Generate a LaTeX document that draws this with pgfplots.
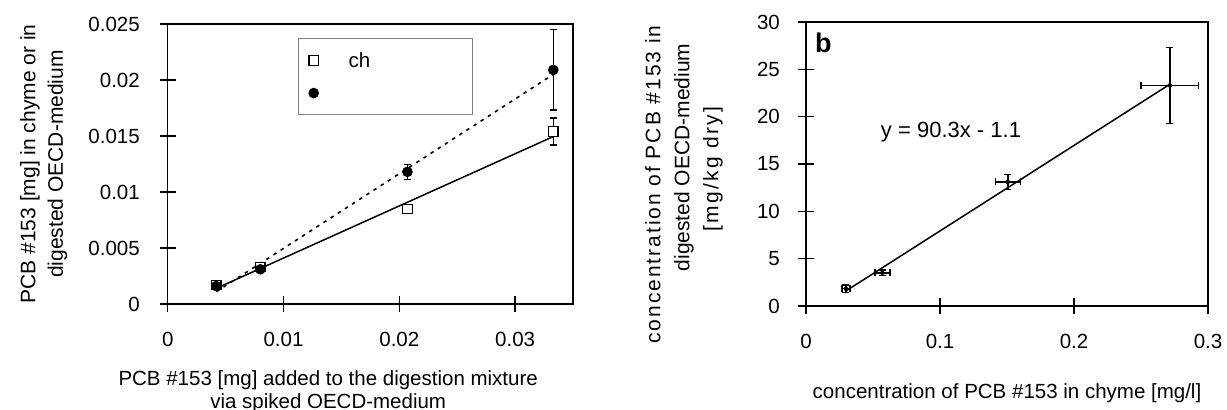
\documentclass[border=0pt]{standalone}
\usepackage{fontspec}
\setmainfont{Liberation Sans}
\usepackage{pgfplots}
\pgfplotsset{compat=1.18}
\usepackage{pgfplotstable}

\newcommand{\tf}{\fontsize{20.5bp}{24bp}\selectfont}

\pgfplotstableread{
x y ey
0.0042 0.0017 0.0002
0.0080 0.0033 0.0002
0.0207 0.0085 0.0004
0.0333 0.0154 0.0012
}\chyme
\pgfplotstableread{
x y ey
0.0042 0.0016 0.0002
0.0080 0.0031 0.0001
0.0207 0.0118 0.00067
0.0333 0.0209 0.0036
}\medium
\pgfplotstableread{
x y ex ey
0.0297 1.83 0.0030 0.4
0.0570 3.50 0.0056 0.3
0.1506 13.1 0.0093 0.8
0.2715 23.3 0.0215 4.0
}\conc

\pgfplotsset{
  mystyle/.style={
    scale only axis,
    axis line style={line width=1.5bp},
    tick style={line width=1.5bp, black},
    major tick length=16bp,
    tick align=center,
    tick pos=left,
    tick label style={font=\tf},
    /pgf/number format/assume math mode=true,
    scaled ticks=false,
    xticklabel style={inner sep=0pt},
    xticklabel shift=20bp,
    error bars/error bar style={line width=1.5bp, black},
    error bars/error mark options={rotate=90, mark size=3.5bp, line width=1.5bp, black},
  },
  myimg/.style={legend image code/.code={%
    \path[draw=none] (0bp,-12bp) rectangle (50bp,12bp);
    \draw[##1, mark repeat=2, mark phase=2] plot coordinates {(0bp,0bp)(15bp,0bp)(30bp,0bp)};}},
}

\begin{document}
\begin{tikzpicture}
\path[use as bounding box] (0,0) rectangle (1227bp,410bp);

\begin{axis}[mystyle,
  at={(167.7bp,106bp)}, anchor=south west,
  width=405.3bp, height=280bp,
  xmin=0, xmax=0.035, ymin=0, ymax=0.025,
  xtick={0,0.01,0.02,0.03}, xticklabels={0,0.01,0.02,0.03},
  ytick={0,0.005,0.01,0.015,0.02,0.025},
  yticklabels={0,0.005,0.01,0.015,0.02,0.025},
  yticklabel style={inner sep=0pt, xshift=-19.7bp},
  xlabel={PCB \#153 [mg] added to the digestion mixture\\via spiked OECD-medium},
  xlabel style={at={(axis description cs:0.396,-0.2357)}, anchor=north, align=center, inner sep=0pt, font=\fontsize{20.5bp}{23bp}\selectfont},
  ylabel={PCB \#153 [mg] in chyme or in\\digested OECD-medium},
  ylabel style={at={(axis description cs:-0.3644,0.5)}, anchor=north, align=center, inner sep=0pt, font=\fontsize{21bp}{27.5bp}\selectfont},
  legend style={at={(rel axis cs:0.3222,0.949)}, anchor=north west, draw=gray, line width=0.8bp,
    inner xsep=0pt, inner ysep=9.7bp, row sep=8.7bp, font=\tf, nodes={inner sep=0pt}},
  legend cell align=left,
]
\addplot[forget plot, black, line width=1.5bp] coordinates {(0.0042,0.0014) (0.0333,0.01495)};
\addplot[forget plot, black, line width=1.6bp, dash pattern=on 3.5bp off 5bp] coordinates {(0.0042,0.0011) (0.0333,0.0205)};
\addplot[only marks, mark=square*, mark size=4.7bp, mark options={fill=white, draw=black, line width=1.1bp},
  myimg,
  error bars/.cd, y dir=both, y explicit]
  table[x=x, y=y, y error=ey] {\chyme};
\addlegendentry{\makebox[123.7bp][l]{ch}}
\addplot[only marks, mark=*, mark size=4.8bp, mark options={fill=black, draw=black, line width=1bp},
  myimg,
  error bars/.cd, y dir=both, y explicit]
  table[x=x, y=y, y error=ey] {\medium};
\addlegendentry{\makebox[123.7bp][l]{}}
\end{axis}

\begin{axis}[mystyle,
  at={(806bp,104bp)}, anchor=south west,
  width=402bp, height=284bp,
  xmin=0, xmax=0.3, ymin=0, ymax=30,
  xtick={0,0.1,0.2,0.3}, xticklabels={0,0.1,0.2,0.3},
  ytick={0,5,10,15,20,25,30}, yticklabels={0,5,10,15,20,25,30},
  yticklabel style={inner sep=0pt, xshift=-18bp},
  xlabel={concentration of PCB \#153 in chyme [mg/l]},
  xlabel style={at={(axis description cs:0.5,-0.271)}, anchor=north, inner sep=0pt, font=\tf},
  ylabel={{\addfontfeature{LetterSpace=9.3}concentration of PCB \#153 in}\hspace*{41bp}\\\hspace*{13bp}digested OECD-medium\\{\addfontfeature{LetterSpace=11.4}[mg/kg dry]}\hspace*{10bp}},
  ylabel style={at={(axis description cs:-0.4005,0.5)}, anchor=north, align=center, inner sep=0pt, font=\fontsize{21bp}{29bp}\selectfont},
]
\addplot[black, line width=1.5bp] coordinates {(0.0297,1.58) (0.2715,23.42)};
\addplot[only marks, mark=none, black,
  error bars/.cd, x dir=both, x explicit, y dir=both, y explicit]
  table[x=x, y=y, x error=ex, y error=ey] {\conc};
\node[anchor=base west, inner sep=0pt, font=\bfseries\fontsize{27bp}{30bp}\selectfont] at (rel axis cs:0.0224,0.891) {b};
\node[anchor=base, inner sep=0pt, font=\fontsize{22bp}{26bp}\selectfont] at (rel axis cs:0.3607,0.595) {y = 90.3x - 1.1};
\end{axis}
\end{tikzpicture}
\end{document}
